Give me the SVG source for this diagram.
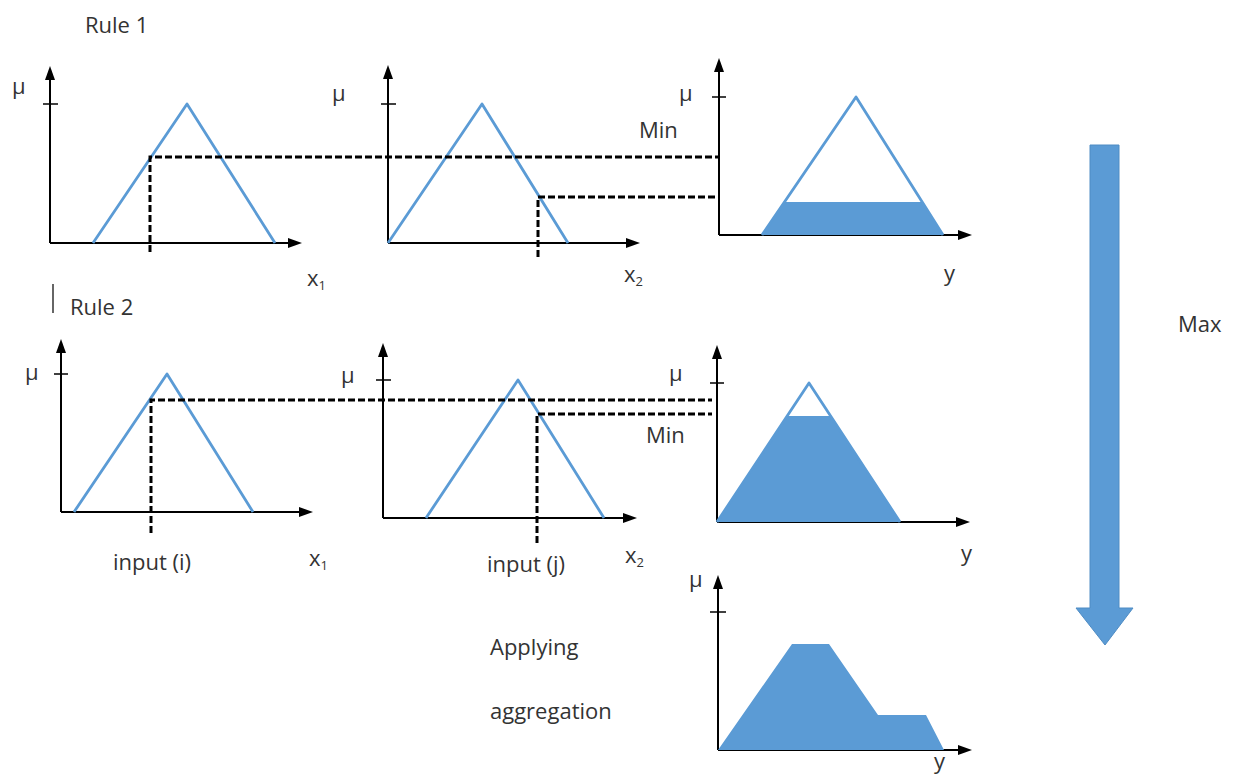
<svg xmlns="http://www.w3.org/2000/svg" width="1236" height="774" viewBox="0 0 1236 774">
<style>
text{font-family:"Open Sans","Liberation Sans",sans-serif;font-size:22px;fill:#333}
.sub{font-size:13px}
.ax{stroke:#000;stroke-width:2;fill:none}
.tk{stroke:#000;stroke-width:1.5}
.mf{stroke:#5B9BD5;stroke-width:2.8;fill:none;stroke-linejoin:round}
.fl{fill:#5B9BD5;stroke:none}
.ds{stroke:#000;stroke-width:3;stroke-dasharray:7 3;fill:none}
</style>
<defs>
<marker id="ah" viewBox="0 0 14 10" markerWidth="14" markerHeight="10" markerUnits="userSpaceOnUse" refX="2" refY="5" orient="auto">
<path d="M0,0 L14,5 L0,10 z" fill="#000"/>
</marker>
</defs>
<rect width="1236" height="774" fill="#fff"/>

<text x="85" y="33">Rule 1</text>
<line x1="53" y1="284" x2="53" y2="313" stroke="#333" stroke-width="1.5"/>
<text x="70" y="315">Rule 2</text>

<g id="r1-x1">
<path class="ax" d="M50,243 V78" marker-end="url(#ah)"/>
<path class="ax" d="M50,243 H290" marker-end="url(#ah)"/>
<line class="tk" x1="43" y1="104" x2="58" y2="104"/>
<polyline class="mf" points="93,243 187,104 275,243"/>
<text x="12" y="94">μ</text>
<text x="307" y="286">x<tspan class="sub" dy="4">1</tspan></text>
</g>

<g id="r1-x2">
<path class="ax" d="M388,243 V77" marker-end="url(#ah)"/>
<path class="ax" d="M388,243 H628" marker-end="url(#ah)"/>
<line class="tk" x1="381" y1="104" x2="396" y2="104"/>
<polyline class="mf" points="388,243 482,104 568,243"/>
<text x="332" y="101">μ</text>
<text x="624" y="282">x<tspan class="sub" dy="4">2</tspan></text>
<text x="639" y="138">Min</text>
</g>

<g id="r1-y">
<path class="ax" d="M719,235 V70" marker-end="url(#ah)"/>
<path class="ax" d="M719,235 H960" marker-end="url(#ah)"/>
<line class="tk" x1="712" y1="97" x2="726" y2="97"/>
<polygon class="fl" points="762,235 784.5,202 922,202 943,235"/>
<polyline class="mf" points="762,235 856,97 943,235"/>
<text x="679" y="101">μ</text>
<text x="944" y="281">y</text>
</g>

<g id="r2-x1">
<path class="ax" d="M61,512 V351" marker-end="url(#ah)"/>
<path class="ax" d="M61,512 H301" marker-end="url(#ah)"/>
<line class="tk" x1="54" y1="374" x2="68" y2="374"/>
<polyline class="mf" points="74,512 167,374 253,512"/>
<text x="25" y="380">μ</text>
<text x="113" y="570">input (i)</text>
<text x="309" y="566">x<tspan class="sub" dy="4">1</tspan></text>
</g>

<g id="r2-x2">
<path class="ax" d="M383,518 V355" marker-end="url(#ah)"/>
<path class="ax" d="M383,518 H625" marker-end="url(#ah)"/>
<line class="tk" x1="376" y1="380" x2="391" y2="380"/>
<polyline class="mf" points="426,518 518,380 604,518"/>
<text x="341" y="383">μ</text>
<text x="487" y="572">input (j)</text>
<text x="625" y="563">x<tspan class="sub" dy="4">2</tspan></text>
<text x="646" y="443">Min</text>
</g>

<g id="r2-y">
<path class="ax" d="M717,522 V357" marker-end="url(#ah)"/>
<path class="ax" d="M717,522 H958" marker-end="url(#ah)"/>
<line class="tk" x1="710" y1="383" x2="724" y2="383"/>
<polygon class="fl" points="717,522 787,416 830.6,416 900,522"/>
<polyline class="mf" points="717,522 809,383 900,522"/>
<text x="669" y="381">μ</text>
<text x="961" y="561">y</text>
</g>

<g id="aggregation">
<path class="ax" d="M718,750 V587" marker-end="url(#ah)"/>
<path class="ax" d="M718,750 H960" marker-end="url(#ah)"/>
<line class="tk" x1="710" y1="612" x2="726" y2="612"/>
<polygon class="fl" points="718,750 792,644 829,644 878,715 926,715 944,750"/>
<text x="689" y="587">μ</text>
<text x="934" y="769">y</text>
<text x="490" y="655">Applying</text>
<text x="490" y="719">aggregation</text>
</g>

<g id="max-arrow">
<polygon points="1090,145 1119,145 1119,608 1133,608 1105,645 1076,608 1090,608" fill="#5B9BD5" stroke="#4F8CC4" stroke-width="1"/>
<text x="1178" y="332">Max</text>
</g>

<g id="connectors">
<path class="ds" d="M150,252 V157 H718"/>
<path class="ds" d="M538,257 V197 H718"/>
<path class="ds" d="M151,533 V400 H712"/>
<path class="ds" d="M537,543 V414 H712"/>
</g>
</svg>
